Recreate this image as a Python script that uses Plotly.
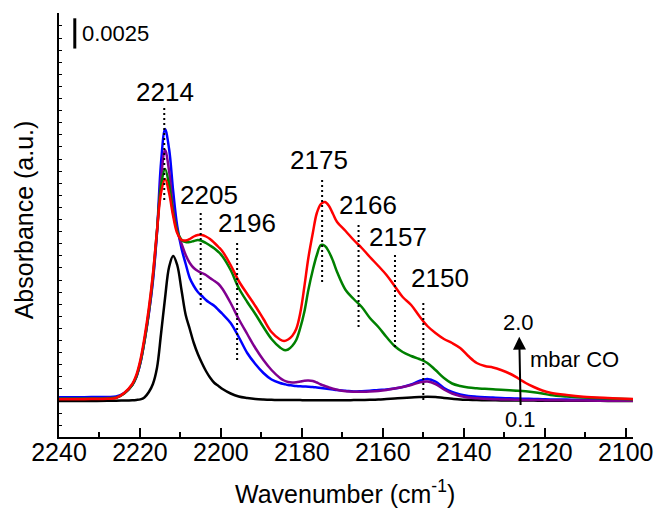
import plotly.graph_objects as go

# ---------------- data ----------------
wavenumber = [
    2240, 2236.1, 2232, 2228, 2225.9, 2223.9, 2221.9, 2220.9, 2219.9, 2218.9,
    2217.8, 2216.8, 2215.8, 2214.8, 2213.8, 2212.8, 2211.8, 2210.8, 2209.7, 2208.7,
    2207.7, 2206.7, 2205.7, 2204.7, 2203.7, 2202.7, 2201.6, 2200.6, 2199.6, 2197.6,
    2195.6, 2193.5, 2191.5, 2189.5, 2187.5, 2185.4, 2184.4, 2183.4, 2182.4, 2181.4,
    2180.4, 2179.4, 2178.4, 2177.3, 2176.3, 2175.3, 2174.3, 2173.3, 2172.3, 2171.3,
    2169.2, 2167.2, 2165.2, 2163.2, 2161.1, 2159.1, 2157.1, 2155.1, 2153.0, 2151.0,
    2149.0, 2147.0, 2144.9, 2142.9, 2140.9, 2138.9, 2136.8, 2134.8, 2132.8, 2130.8,
    2128.7, 2126.7, 2124.7, 2122.7, 2120.6, 2118.6, 2114.6, 2110.5, 2104.4, 2098.2,
]

# absorbance readings in a.u. (the 0.0025 scale bar spans 30.25 a.u.)
spec_black = [
    0, 0, 0, 0.2, 0.3, 0.5, 0.8, 1.1, 1.6, 3.5,
    9, 17, 33, 67, 103, 134, 145, 136, 110, 86,
    72, 58, 47, 38, 30, 23.5, 18, 15, 12, 7.5,
    4.5, 3, 2, 1.5, 1.2, 1, 1, 1, 0.9, 0.9,
    0.9, 0.8, 0.8, 0.8, 0.8, 0.8, 0.8, 0.8, 0.8, 0.8,
    0.8, 0.9, 1, 1.2, 1.5, 2, 2.5, 3, 3.5, 4,
    4.3, 4, 3, 2.2, 1.5, 1.2, 1, 0.8, 0.7, 0.6,
    0.5, 0.5, 0.4, 0.4, 0.3, 0.3, 0.2, 0.2, 0.1, 0,
]
spec_blue = [
    3.7, 3.8, 3.9, 4, 4.5, 8, 16, 24, 38, 60,
    88, 120, 168, 238, 272, 252, 210, 175, 152, 137,
    123, 115, 109, 105, 101, 98, 95, 91, 87, 78,
    64, 48, 37, 28, 21.5, 18, 17, 16, 15.5, 15,
    14.7, 14.5, 14.3, 14, 13.5, 13, 12.5, 12, 11.5, 11,
    10.3, 9.5, 9.8, 10.3, 11, 11.5, 12.5, 14, 16.5, 20,
    22, 19.5, 13, 9, 6.5, 5, 4.3, 3.8, 3.4, 3,
    2.7, 2.5, 2.2, 2, 1.8, 1.6, 1.4, 1.2, 1, 1,
]
spec_purple = [
    2.5, 2.6, 2.7, 3, 3.5, 7.5, 16, 24, 38, 59,
    88, 122, 168, 222, 251, 230, 192, 170, 157, 146,
    138, 133, 130, 128, 126, 123, 120, 117, 112, 98,
    82, 67, 53, 41, 31, 23, 20.5, 19, 18.5, 18.8,
    19.5, 20.3, 20.5, 20, 18.5, 16.5, 15, 13.5, 12.3, 11.3,
    9.8, 9.3, 9.3, 9.5, 10, 11, 12.5, 14, 16, 18.5,
    19.5, 17, 11.5, 7.5, 5, 3.5, 2.7, 2.2, 1.8, 1.6,
    1.4, 1.2, 1.1, 1, 0.9, 0.8, 0.6, 0.5, 0.3, 0.3,
]
spec_green = [
    2.2, 2.2, 2.3, 2.6, 3.2, 7.5, 16, 24.5, 39, 60,
    90, 125, 170, 215, 232, 216, 188, 170, 161, 159,
    159, 160, 161, 160, 158, 155.5, 152.5, 149, 144.5, 131,
    113, 99, 87, 74, 62, 53.5, 51, 51.5, 55, 61,
    73, 89, 111, 131, 146, 156, 155, 149, 140, 129,
    111, 102, 94, 83, 74, 64, 55, 49, 45, 42,
    38, 31, 23, 17.5, 15, 13.5, 12.7, 12.2, 11.7, 11.2,
    10.7, 10.3, 9.7, 8.8, 7.5, 6, 4.5, 3.5, 2.5, 1.7,
]
spec_red = [
    1.7, 1.8, 1.9, 2.2, 3, 8, 17, 26, 41, 63,
    93, 127, 170, 208, 222, 208, 185, 168, 161, 160.5,
    162, 164.5, 166, 166, 164.5, 162, 158, 154, 149.5, 136,
    120, 107, 95, 82, 69, 61.5, 60, 61.5, 65, 72,
    88, 114, 143, 168, 188, 197, 199, 195, 187, 179,
    170, 161, 153, 144, 135, 126, 115, 104, 96, 85,
    75, 68, 62, 58, 53, 45, 38, 35, 33.5, 31,
    27.5, 23, 18, 14, 10.5, 8.3, 6, 4.3, 3, 2,
]

peak_labels = ["2214", "2205", "2196", "2175", "2166", "2157", "2150"]
peak_wavenumbers = [2214, 2205, 2196, 2175, 2166, 2157, 2150]
scale_bar_value = 0.0025
pressure_low = "0.1"
pressure_high = "2.0"

ABS_PER_AU = scale_bar_value / 30.25

# ---------------- figure ----------------
FONT = "Liberation Sans, Arial, sans-serif"
series = [
    (spec_black, "black"),
    (spec_blue, "#0000ff"),
    (spec_purple, "#800090"),
    (spec_green, "#008000"),
    (spec_red, "#ff0000"),
]

fig = go.Figure()
for vals, col in series:
    fig.add_trace(go.Scatter(
        x=wavenumber, y=[v * ABS_PER_AU for v in vals], mode="lines",
        line=dict(color=col, width=2.5, shape="spline", smoothing=1.0),
        hoverinfo="skip", showlegend=False,
    ))

A = ABS_PER_AU
shapes = []
annotations = []

# dotted peak markers: (top, bottom) in a.u.
dot_spans = [(294, 201), (188, 96), (161, 41), (221, 119), (176, 74), (148, 54), (99, 1)]
label_pos = [(2213.8, 309), (2203.0, 206), (2193.5, 178), (2175.7, 241),
             (2163.7, 196), (2156.3, 164), (2146.0, 123)]
for lab, wn, (t, b), (lx, ly) in zip(peak_labels, peak_wavenumbers, dot_spans, label_pos):
    shapes.append(dict(type="line", xref="x", yref="y", x0=wn, x1=wn, y0=b * A, y1=t * A,
                       line=dict(color="black", width=2, dash="2px,3px"), layer="above"))
    annotations.append(dict(x=lx, y=ly * A, xref="x", yref="y", text=lab, showarrow=False,
                            font=dict(family=FONT, size=26, color="black"),
                            xanchor="center", yanchor="middle"))

# scale bar
bar_x = 2236.1
bar_top = 382.7 * A
shapes.append(dict(type="line", xref="x", yref="y", x0=bar_x, x1=bar_x,
                   y0=bar_top - scale_bar_value, y1=bar_top,
                   line=dict(color="black", width=3)))
annotations.append(dict(x=2234.7, y=367.7 * A, xref="x", yref="y", text=str(scale_bar_value),
                        showarrow=False, xanchor="left", yanchor="middle",
                        font=dict(family=FONT, size=22, color="black")))

# pressure arrow (drawn from the "0.1" label up to the tip)
arr_x = 2126.3
annotations.append(dict(x=arr_x, y=64.3 * A, ax=2125.9, ay=-18 * A, xref="x", yref="y",
                        axref="x", ayref="y", text=pressure_low, showarrow=True,
                        arrowhead=2, arrowsize=1.3, arrowwidth=2, arrowcolor="black",
                        standoff=0, startstandoff=0,
                        font=dict(family=FONT, size=22, color="black")))
annotations.append(dict(x=2126.6, y=78.5 * A, xref="x", yref="y", text=pressure_high,
                        showarrow=False, xanchor="center", yanchor="middle",
                        font=dict(family=FONT, size=22, color="black")))
annotations.append(dict(x=2124.2, y=42 * A, xref="x", yref="y", text="mbar CO",
                        showarrow=False, xanchor="left", yanchor="middle",
                        font=dict(family=FONT, size=22, color="black")))

# axis titles
annotations.append(dict(x=0.499, y=-0.13, xref="paper", yref="paper",
                        text="Wavenumber (cm<sup>-1</sup>)", showarrow=False,
                        xanchor="center", yanchor="middle",
                        font=dict(family=FONT, size=25, color="black")))
annotations.append(dict(x=-0.062, y=0.512, xref="paper", yref="paper",
                        text="Absorbance (a.u.)", showarrow=False, textangle=-90,
                        xanchor="center", yanchor="middle",
                        font=dict(family=FONT, size=25, color="black")))

fig.update_layout(
    width=665, height=510,
    margin=dict(l=59, r=27, t=13, b=73, pad=0),
    paper_bgcolor="white", plot_bgcolor="white",
    showlegend=False,
    shapes=shapes, annotations=annotations,
    xaxis=dict(
        range=[2240, 2098.2], tickmode="linear", tick0=2100, dtick=20,
        ticks="inside", ticklen=9, tickwidth=1.5, tickcolor="black",
        showline=True, linewidth=1.8, linecolor="black",
        showgrid=False, zeroline=False, ticklabelstandoff=-8,
        tickfont=dict(family=FONT, size=25, color="black"),
        minor=dict(tick0=2100, dtick=10, ticks="inside", ticklen=5,
                   tickwidth=1.5, tickcolor="black", showgrid=False),
    ),
    yaxis=dict(
        range=[-36 * A, 388 * A], tickmode="linear", tick0=0, dtick=0.001,
        ticks="inside", ticklen=3, tickwidth=1.2, tickcolor="black",
        showticklabels=False, showline=True, linewidth=1.8, linecolor="black",
        showgrid=False, zeroline=False,
    ),
)

fig.write_html("out.html")
